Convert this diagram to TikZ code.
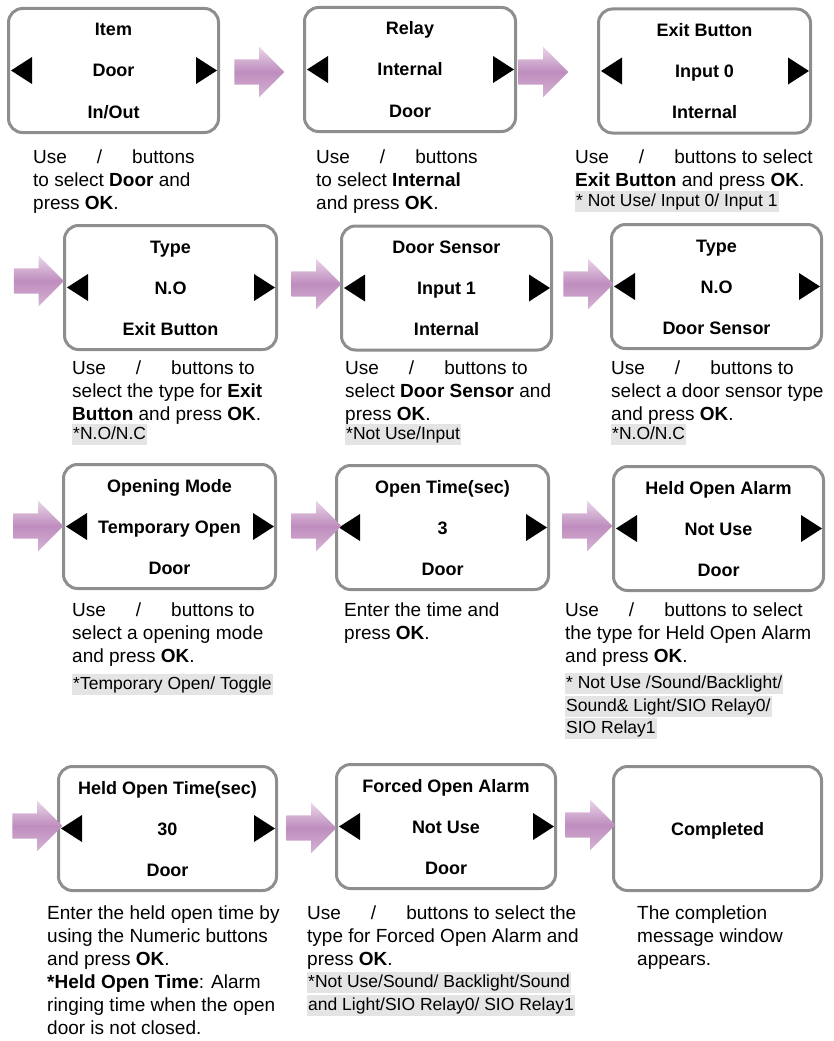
\documentclass[tikz,border=0pt]{standalone}
\usepackage{fontspec}
\setmainfont{Liberation Sans}
\usepackage{xcolor}
\usetikzlibrary{shapes.arrows, positioning, calc}
\definecolor{scrgray}{HTML}{8E8E8E}
\definecolor{notegray}{HTML}{E4E4E4}
\definecolor{flowlight}{HTML}{EAD5E8}
\definecolor{flowdark}{HTML}{BE8DBE}
\definecolor{flowlow}{HTML}{D6B4D4}

% one terminal screen: name, x, y, width, title, value, sub line
\newcommand{\lcdscreen}[7]{%
  \node[screen, minimum width=#4] (#1) at (#2,#3) {};
  \node[scrtext] (#1-title) at ([yshift=-29pt]#1.north) {#5};
  \node[scrtext] (#1-value) at ([yshift=-6.5pt]#1.center) {#6};
  \node[scrtext] (#1-sub) at ([yshift=16pt]#1.south) {#7};
  \fill ([xshift=4pt]#1.west) -- ++(21pt,13.5pt) -- ++(0pt,-27pt) -- cycle;
  \fill ([xshift=-3pt]#1.east) -- ++(-21pt,13.5pt) -- ++(0pt,-27pt) -- cycle;
}
\newcommand{\ud}{Use\hspace{30pt}/\hspace{30pt}buttons}

\begin{document}
\begin{tikzpicture}[x=1pt, y=-1pt,
    screen/.style={draw=scrgray, line width=3pt, rounded corners=14pt,
      fill=white, minimum height=124pt},
    scrtext/.style={anchor=base, inner sep=0pt,
      font=\fontsize{18}{21}\selectfont\bfseries},
    flow/.style={single arrow, draw=none, minimum height=50pt,
      single arrow head extend=12.5pt, inner xsep=0pt, inner ysep=12.5pt,
      top color=flowlight, bottom color=flowlow, middle color=flowdark},
    desc/.style={anchor=north west, inner sep=0pt, align=left,
      font=\fontsize{19}{23}\selectfont},
    note/.style={anchor=base west, fill=notegray, inner xsep=1pt,
      inner ysep=2pt, text height=13pt, text depth=4pt,
      font=\fontsize{17.5}{21}\selectfont}]
  \useasboundingbox (0,0) rectangle (834,1041);

  % row 1
  \lcdscreen{s1}{113.5}{70.5}{210pt}{Item}{Door}{In/Out}
  \lcdscreen{s2}{410}{69.5}{211pt}{Relay}{Internal}{Door}
  \lcdscreen{s3}{704.5}{71}{212pt}{Exit Button}{Input 0}{Internal}
  \node[flow] (a1) at (253,72) {};
  \node[flow] (a2) at (537,72) {};
  \node[desc] (d1) at (33,150) {\ud\\to select \textbf{Door} and\\press \textbf{OK}.};
  \node[desc] (d2) at (316,150) {\ud\\to select \textbf{Internal}\\and press \textbf{OK}.};
  \node[desc] (d3) at (575,150) {\ud{} to select\\\textbf{Exit Button} and press \textbf{OK}.};
  \node[note] (n3) at (575,206) {* Not Use/ Input 0/ Input 1};

  % row 2
  \lcdscreen{s4}{170.5}{287.5}{212pt}{Type}{N.O}{Exit Button}
  \lcdscreen{s5}{446.5}{288}{210pt}{Door Sensor}{Input 1}{Internal}
  \lcdscreen{s6}{716.5}{286.5}{210pt}{Type}{N.O}{Door Sensor}
  \node[flow] (a3) at (32.5,281) {};
  \node[flow] (a4) at (310,284) {};
  \node[flow] (a5) at (582,284) {};
  \node[desc] (d4) at (72,361) {\ud{} to\\select the type for \textbf{Exit}\\\textbf{Button} and press \textbf{OK}.};
  \node[note] (n4) at (72,439) {*N.O/N.C};
  \node[desc] (d5) at (345,361) {\ud{} to\\select \textbf{Door Sensor} and\\press \textbf{OK}.};
  \node[note] (n5) at (345,439) {*Not Use/Input};
  \node[desc] (d6) at (611,361) {\ud{} to\\select a door sensor type\\and press \textbf{OK}.};
  \node[note] (n6) at (611,439) {*N.O/N.C};

  % row 3
  \lcdscreen{s7}{169.5}{526.5}{212pt}{Opening Mode}{Temporary Open}{Door}
  \lcdscreen{s8}{442.5}{527.5}{212pt}{Open Time(sec)}{3}{Door}
  \lcdscreen{s9}{718.5}{528.5}{210pt}{Held Open Alarm}{Not Use}{Door}
  \node[flow] (a6) at (32,526) {};
  \node[flow] (a7) at (310,526) {};
  \node[flow] (a8) at (581,526) {};
  \node[desc] (d7) at (72,603) {\ud{} to\\select a opening mode\\and press \textbf{OK}.};
  \node[note] (n7) at (72,689) {*Temporary Open/ Toggle};
  \node[desc] (d8) at (344,603) {Enter the time and\\press \textbf{OK}.};
  \node[desc] (d9) at (565,603) {\ud{} to select\\the type for Held Open Alarm\\and press \textbf{OK}.};
  \node[note] (n9a) at (565,688) {* Not Use /Sound/Backlight/};
  \node[note] (n9b) at (565,711) {Sound\& Light/SIO Relay0/};
  \node[note] (n9c) at (565,733) {SIO Relay1};

  % row 4
  \lcdscreen{s10}{167.5}{828.5}{218pt}{Held Open Time(sec)}{30}{Door}
  \lcdscreen{s11}{446}{826.5}{219pt}{Forced Open Alarm}{Not Use}{Door}
  \node[screen, minimum width=208pt] (s12) at (717.5,828.5) {};
  \node[scrtext] (s12-title) at ([yshift=-6.5pt]s12.center) {Completed};
  \node[flow] (a9) at (31,826) {};
  \node[flow] (a10) at (305,828) {};
  \node[flow] (a11) at (584,825) {};
  \node[desc] (d10) at (47,906) {Enter the held open time by\\using the Numeric buttons\\and press \textbf{OK}.\\\textbf{*Held Open Time}: Alarm\\ringing time when the open\\door is not closed.};
  \node[desc] (d11) at (307,906) {\ud{} to select the\\type for Forced Open Alarm and\\press \textbf{OK}.};
  \node[note] (n11a) at (307,987) {*Not Use/Sound/ Backlight/Sound};
  \node[note] (n11b) at (307,1010) {and Light/SIO Relay0/ SIO Relay1};
  \node[desc] (d12) at (637,906) {The completion\\message window\\appears.};
\end{tikzpicture}
\end{document}
